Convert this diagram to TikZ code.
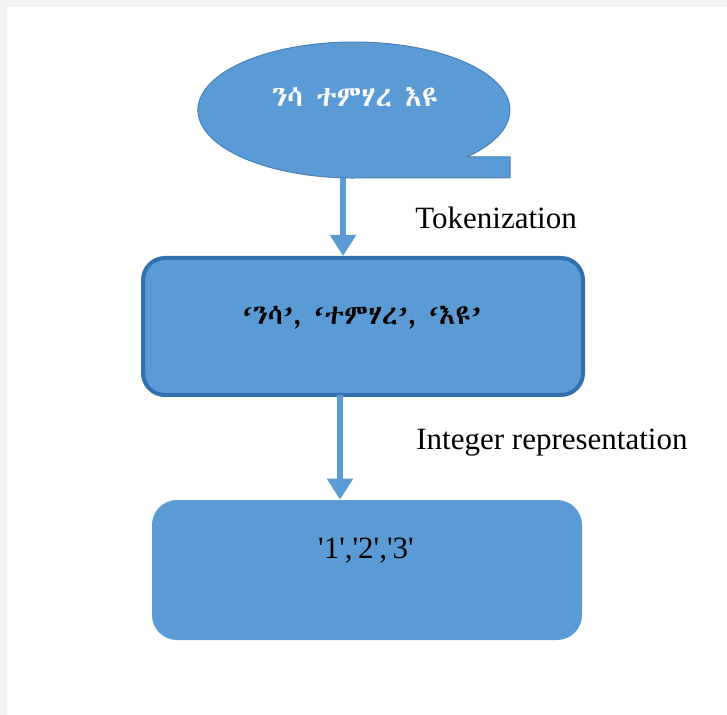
\documentclass[tikz,border=0pt]{standalone}
\usepackage{fontspec}
\setmainfont{Liberation Serif}
% Ethiopic face: take the first one that is installed
\IfFontExistsTF{Abyssinica SIL}{\newfontfamily\ethfont{Abyssinica SIL}}{%
  \IfFontExistsTF{FreeSerif}{\newfontfamily\ethfont{FreeSerif}}{%
    \IfFontExistsTF{FreeSans}{\newfontfamily\ethfont{FreeSans}}{%
      \newfontfamily\ethfont{Noto Sans}}}}
\usetikzlibrary{arrows.meta}
\definecolor{boxfill}{HTML}{5B9BD5}
\definecolor{boxline}{HTML}{3370B0}
\definecolor{ovalline}{HTML}{4A80B5}
\definecolor{pagegray}{HTML}{F2F2F2}
\tikzset{
  flowbox/.style={fill=boxfill, rounded corners=11pt, inner sep=0pt},
  flowarrow/.style={draw=boxfill, line width=2.6pt,
    -{Triangle[width=12.5pt,length=10.5pt]}},
  steplabel/.style={font=\fontsize{15.5}{18}\selectfont, anchor=west, inner sep=0pt},
  boxtext/.style={font=\fontsize{15.5}{18}\selectfont, inner sep=0pt}
}
\begin{document}
\begin{tikzpicture}[x=0.5pt,y=0.5pt]
  % page
  \fill[pagegray] (0,0) rectangle (727,-715);
  \fill[white] (7,-7) rectangle (727,-715);
  \useasboundingbox (0,0) rectangle (727,-715);

  % input sentence: sequential-access shape (oval with a tail at the lower right)
  \filldraw[fill=boxfill, draw=ovalline, line width=0.5pt]
    (354,-178) -- (510,-178) -- (510,-157) -- (466.7,-157)
    arc[start angle=-43.7, end angle=270, x radius=156, y radius=68] -- cycle;
  \node[boxtext, text=white, font=\ethfont\fontsize{14.3}{17}\selectfont]
    (sentence) at (355,-97) {ንሳ ተምሃረ እዩ};
  \coordinate (ovalbottom) at (343,-178);

  % token box
  \node[flowbox, draw=boxline, line width=2pt,
        minimum width=220pt, minimum height=68.5pt]
    (tokens) at (363,-326.5) {};
  \node[boxtext, font=\ethfont\fontsize{13.8}{17}\selectfont]
    (tokentext) at (362,-318) {‘ንሳ’, ‘ተምሃረ’, ‘እዩ’};

  % integer box
  \node[flowbox, rounded corners=12.5pt, minimum width=215pt, minimum height=70pt]
    (ints) at (367,-570) {};
  \node[boxtext] (inttext) at (366,-551)
    {\textquotesingle1\textquotesingle,\textquotesingle2\textquotesingle,\textquotesingle3\textquotesingle};

  % connectors
  \draw[flowarrow] (ovalbottom) -- (ovalbottom |- tokens.north);
  \coordinate (tokbottom) at (340,-395);
  \draw[flowarrow] (tokbottom) -- (tokbottom |- ints.north);

  % step labels
  \node[steplabel] (toklabel) at (415,-218) {Tokenization};
  \node[steplabel] (intlabel) at (416,-443) {Integer representation};
\end{tikzpicture}
\end{document}
